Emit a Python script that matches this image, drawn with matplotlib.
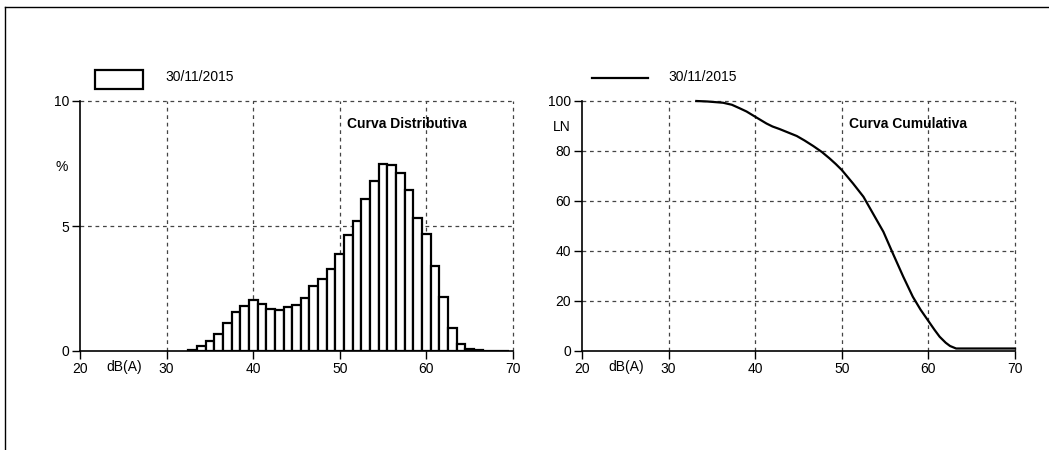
import matplotlib
matplotlib.use("Agg")
import matplotlib.pyplot as plt
from matplotlib.patches import Rectangle
from matplotlib.lines import Line2D

plt.rcParams['font.family'] = ['Liberation Sans', 'DejaVu Sans']

# ---- data ----
legend_label = "30/11/2015"
levels_db = [33, 34, 35, 36, 37, 38, 39, 40, 41, 42, 43, 44, 45, 46, 47, 48, 49, 50,
             51, 52, 53, 54, 55, 56, 57, 58, 59, 60, 61, 62, 63, 64, 65, 66, 67, 68, 69]
dist_pct = [0.03, 0.19, 0.41, 0.67, 1.12, 1.55, 1.81, 2.05, 1.88, 1.67, 1.63, 1.75, 1.84,
            2.11, 2.59, 2.88, 3.29, 3.89, 4.65, 5.20, 6.08, 6.80, 7.47, 7.44, 7.12, 6.44,
            5.31, 4.67, 3.41, 2.17, 0.91, 0.27, 0.10, 0.05, 0.02, 0.02, 0.02]
cum_db = [33.2, 34.5, 36.3, 37.3, 38.2, 39.0, 40.0, 41.3, 42.0, 42.8, 43.8, 44.8, 45.7,
          46.7, 47.7, 48.6, 49.3, 50.0, 51.3, 52.5, 53.6, 54.8, 55.9, 57.1, 58.2, 59.1,
          60.0, 60.7, 61.3, 62.0, 62.5, 63.2, 70.0]
cum_ln = [100.0, 99.8, 99.3, 98.5, 97.1, 95.8, 93.7, 91.0, 89.8, 88.8, 87.4, 86.0, 84.2,
          82.0, 79.6, 77.0, 74.8, 72.4, 67.0, 61.7, 55.0, 47.7, 39.0, 29.7, 21.7, 16.5,
          12.0, 8.5, 5.7, 3.3, 2.0, 1.0, 1.0]
x_ticks = [20, 30, 40, 50, 60, 70]
dist_yticks = [0, 5, 10]
cum_yticks = [0, 20, 40, 60, 80, 100]

W, H = 1049, 450
fig = plt.figure(figsize=(W / 100, H / 100), dpi=100)

# outer frame lines (top and left)
fig.add_artist(Line2D([5 / W, 1.0], [1 - 7 / H, 1 - 7 / H], color='black', lw=1.0,
                      transform=fig.transFigure))
fig.add_artist(Line2D([5 / W, 5 / W], [0, 1 - 7 / H], color='black', lw=1.0,
                      transform=fig.transFigure))

ax_w = 433 / W
ax_h = 250 / H
ax_b = 1 - 351 / H
ax1 = fig.add_axes([80 / W, ax_b, ax_w, ax_h])
ax2 = fig.add_axes([582 / W, ax_b, ax_w, ax_h])

grid_kw = dict(color='#444444', linestyle=(0, (3, 3)), linewidth=0.9, clip_on=False)


def style(ax, yticks, ylim):
    ax.set_xlim(20, 70)
    ax.set_ylim(*ylim)
    ax.set_xticks(x_ticks)
    ax.set_yticks(yticks)
    ax.tick_params(direction='out', length=6, width=1, labelsize=10, pad=2, colors='black')
    for s in ['top', 'right']:
        ax.spines[s].set_visible(False)
    for s in ['left', 'bottom']:
        ax.spines[s].set_linewidth(1.2)
    for x in x_ticks[1:]:
        ax.axvline(x, zorder=0, **grid_kw)
    for y in yticks[1:]:
        ax.axhline(y, zorder=0, **grid_kw)
    ax.text(25.1, -16 / 250, "dB(A)", transform=ax.get_xaxis_transform(), ha='center',
            va='center', fontsize=10)


# ---- distribution ----
style(ax1, dist_yticks, (0, 10))
ax1.bar(levels_db, dist_pct, width=1.0, facecolor='white', edgecolor='black',
        linewidth=1.6, zorder=3)
ax1.text(-0.042, 0.736, "%", transform=ax1.transAxes, ha='center', va='center', fontsize=10)
ax1.text(0.617, 0.908, "Curva Distributiva", transform=ax1.transAxes, ha='left',
         va='center', fontsize=10, fontweight='bold')
ax1.add_patch(Rectangle((15 / 433, 1 + 12 / 250), 48 / 433, 19 / 250,
                        transform=ax1.transAxes, facecolor='white', edgecolor='black',
                        linewidth=1.6, clip_on=False))
ax1.text((165 - 80) / 433, 1 + 24 / 250, legend_label, transform=ax1.transAxes,
         ha='left', va='center', fontsize=10)

# ---- cumulative ----
style(ax2, cum_yticks, (0, 100))
ax2.plot(cum_db, cum_ln, color='black', linewidth=1.6, zorder=3, clip_on=False)
ax2.text(-0.046, 0.896, "LN", transform=ax2.transAxes, ha='center', va='center', fontsize=10)
ax2.text(0.617, 0.908, "Curva Cumulativa", transform=ax2.transAxes, ha='left',
         va='center', fontsize=10, fontweight='bold')
ax2.add_artist(Line2D([10 / 433, 66 / 433], [1 + 23 / 250, 1 + 23 / 250],
                      transform=ax2.transAxes, color='black', linewidth=1.6, clip_on=False))
ax2.text((668 - 582) / 433, 1 + 24 / 250, legend_label, transform=ax2.transAxes,
         ha='left', va='center', fontsize=10)

fig.savefig("out.png", dpi=100)
